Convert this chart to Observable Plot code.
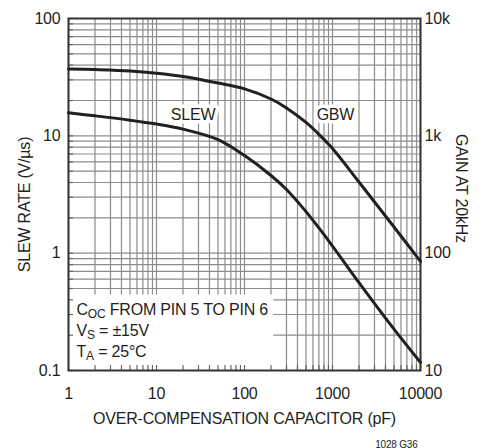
<!DOCTYPE html>
<html><head><meta charset="utf-8">
<script src="https://cdn.jsdelivr.net/npm/d3@7"></script>
<script src="https://cdn.jsdelivr.net/npm/@observablehq/plot@0.6"></script>
<style>
body{margin:0;background:#fff}
#chart svg text{letter-spacing:-0.2px}
</style></head><body><div id="chart"></div>
<script>
// data
const capPF    = [1, 2, 5, 10, 20, 50, 100, 200, 300, 500, 700, 1000, 2000, 5000, 10000];
const slewRate = [15.7, 14.8, 13.6, 12.6, 11.4, 9.29, 6.79, 4.59, 3.49, 2.26, 1.64, 1.15, 0.561, 0.225, 0.117];
const gbwGain  = [3720, 3670, 3570, 3420, 3210, 2820, 2510, 2060, 1730, 1300, 1030, 780, 404, 167, 85];

const xTicks = [1, 10, 100, 1000, 10000];
const xTickLabels = ["1", "10", "100", "1000", "10000"];
const yTicks = [0.1, 1, 10, 100];
const leftLabels = ["0.1", "1", "10", "100"];
const rightLabels = ["10", "100", "1k", "10k"];

const curveNames = ["SLEW", "GBW"];
const curveLabelX = [26, 1080];
const curveLabelY = [15, 15];

const noteLines = ["COC FROM PIN 5 TO PIN 6", "VS = ±15V", "TA = 25°C"];
const noteParts = [["C", "OC", " FROM PIN 5 TO PIN 6"], ["V", "S", " = ±15V"], ["T", "A", " = 25°C"]];
const noteBoxX = [1, 215];
const noteBoxY = [0.1, 0.44];

const xTitle = "OVER-COMPENSATION CAPACITOR (pF)";
const yTitle = "SLEW RATE (V/µs)";
const y2Title = "GAIN AT 20kHz";
const caption = "1028 G36";

// log grid positions
const gridX = [];
for (let e = 0; e < 4; e++) for (let k = 1; k < 10; k++) gridX.push(k * 10 ** e);
gridX.push(10000);
const gridY = [];
for (let e = -1; e < 2; e++) for (let k = 1; k < 10; k++) gridY.push(+(k * 10 ** e).toPrecision(3));
gridY.push(100);

const slewData = capPF.map((c, i) => ({c, v: slewRate[i]}));
const gbwData = capPF.map((c, i) => ({c, v: gbwGain[i] / 100}));
const labelData = curveNames.map((t, i) => ({t, x: curveLabelX[i], y: curveLabelY[i]}));
const boxData = [{x1: noteBoxX[0], x2: noteBoxX[1], y1: noteBoxY[0], y2: noteBoxY[1]}];

const FONT = '"Liberation Sans",Arial,Helvetica,sans-serif';
const INK = "#231f20";
const FS = 16;

const svg = Plot.plot({
  width: 493, height: 448,
  marginTop: 18, marginBottom: 78, marginLeft: 68, marginRight: 73,
  style: {fontFamily: FONT, fontSize: FS + "px", background: "white", color: INK},
  x: {type: "log", domain: [1, 10000], axis: null, label: null},
  y: {type: "log", domain: [0.1, 100], axis: null, label: null},
  marks: [
    Plot.ruleX(gridX, {stroke: "#8c8c8c", strokeWidth: 1.2}),
    Plot.ruleY(gridY, {stroke: "#8c8c8c", strokeWidth: 1.2}),
    Plot.rect(boxData, {x1: "x1", x2: "x2", y1: "y1", y2: "y2", fill: "white"}),
    Plot.ruleX(gridX, {y1: 0.1, y2: 0.1, insetTop: -5, stroke: "#666", strokeWidth: 1.2}),
    Plot.ruleY(gridY, {x1: 1, x2: 1, insetRight: -5, stroke: "#666", strokeWidth: 1.2}),
    Plot.frame({stroke: "#333", strokeWidth: 2}),
    Plot.line(gbwData, {x: "c", y: "v", curve: "catmull-rom", stroke: INK, strokeWidth: 3}),
    Plot.line(slewData, {x: "c", y: "v", curve: "catmull-rom", stroke: INK, strokeWidth: 3}),
    Plot.text(labelData, {x: "x", y: "y", text: "t", fontSize: FS, fill: INK, stroke: "white", strokeWidth: 7, lineAnchor: "middle"}),
    Plot.text(noteLines.slice(0, 1), {text: d => d, frameAnchor: "bottom-left", textAnchor: "start", lineAnchor: "bottom", dx: 8, dy: -56, fontSize: FS, fill: INK}),
    Plot.text(noteLines.slice(1, 2), {text: d => d, frameAnchor: "bottom-left", textAnchor: "start", lineAnchor: "bottom", dx: 8, dy: -35, fontSize: FS, fill: INK}),
    Plot.text(noteLines.slice(2, 3), {text: d => d, frameAnchor: "bottom-left", textAnchor: "start", lineAnchor: "bottom", dx: 8, dy: -14, fontSize: FS, fill: INK}),
    Plot.axisX(xTicks, {anchor: "bottom", tickSize: 0, tickPadding: 17, tickFormat: d => xTickLabels[xTicks.indexOf(d)], fontSize: FS, fill: INK, label: null}),
    Plot.axisY(yTicks, {anchor: "left", tickSize: 0, tickPadding: 8, tickFormat: d => leftLabels[yTicks.indexOf(d)], fontSize: FS, fill: INK, label: null}),
    Plot.axisY(yTicks, {anchor: "right", tickSize: 0, tickPadding: 4, tickFormat: d => rightLabels[yTicks.indexOf(d)], fontSize: FS, fill: INK, label: null}),
    Plot.text([xTitle], {text: d => d, frameAnchor: "bottom", textAnchor: "middle", lineAnchor: "bottom", dy: 53, fontSize: FS, fill: INK}),
    Plot.text([yTitle], {text: d => d, frameAnchor: "left", textAnchor: "middle", rotate: -90, lineAnchor: "middle", dx: -44, dy: 10, fontSize: FS, fill: INK}),
    Plot.text([y2Title], {text: d => d, frameAnchor: "right", textAnchor: "middle", rotate: 90, lineAnchor: "middle", dx: 41, dy: -6, fontSize: FS, fill: INK}),
    Plot.text([caption], {text: d => d, frameAnchor: "bottom-right", textAnchor: "end", lineAnchor: "bottom", dx: -3, dy: 77, fontSize: 10, fill: INK})
  ]
});

// subscripts in the note lines
d3.select(svg).selectAll("text").each(function () {
  const idx = noteLines.indexOf(this.textContent);
  if (idx < 0) return;
  const p = noteParts[idx];
  const s = d3.select(this);
  this.textContent = "";
  s.append("tspan").text(p[0]);
  s.append("tspan").attr("dy", "3px").attr("font-size", "12px").text(p[1]);
  s.append("tspan").attr("dy", "-3px").text(p[2]);
});

document.getElementById("chart").append(svg);
</script></body></html>
